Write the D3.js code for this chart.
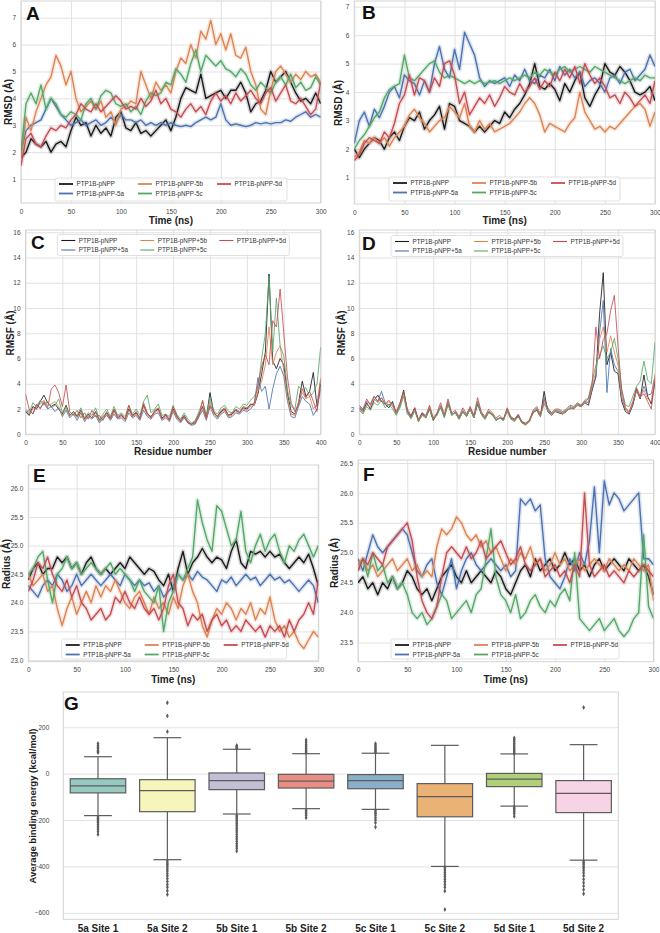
<!DOCTYPE html>
<html>
<head>
<meta charset="utf-8">
<script src="https://cdn.jsdelivr.net/npm/d3@7"></script>
<style>
  body { margin: 0; background: #fff; }
  svg { display: block; font-family: "Liberation Sans", Arial, sans-serif; }
  .axis .domain { display: none; }
  .axis line { stroke: #e2e2e2; stroke-width: 1; }
  .axis text { font-size: 6.5px; fill: #444; }
  .boldaxis text { font-size: 10px; font-weight: bold; fill: #222; }
</style>
</head>
<body>
<svg id="fig" width="660" height="933"></svg>
<script>
'use strict';

// ---- shared categories / ticks ----
const timeNs = [0,5,10,15,20,25,30,35,40,45,50,55,60,65,70,75,80,85,90,95,100,
  105,110,115,120,125,130,135,140,145,150,155,160,165,170,175,180,185,190,195,200,
  205,210,215,220,225,230,235,240,245,250,255,260,265,270,275,280,285,290,295,300];
const residues = [0,5,10,15,20,25,30,35,40,45,50,55,60,65,70,75,80,85,90,95,
  100,105,110,115,120,125,130,135,140,145,150,155,160,165,170,175,180,185,190,195,
  200,205,210,215,220,225,230,235,240,245,250,255,260,265,270,275,280,285,290,295,
  300,305,310,315,320,325,330,335,340,345,350,355,360,365,370,375,380,385,390,395,400];

const labelsDash = ['PTP1B-pNPP', 'PTP1B-pNPP-5a', 'PTP1B-pNPP-5b', 'PTP1B-pNPP-5c', 'PTP1B-pNPP-5d'];
const labelsPlus = ['PTP1B-pNPP', 'PTP1B-pNPP+5a', 'PTP1B-pNPP+5b', 'PTP1B-pNPP+5c', 'PTP1B-pNPP+5d'];
const seriesColors = ['#1a1a1a', '#4c72b0', '#dd8452', '#55a868', '#c44e52'];

const timeTicks = [0, 50, 100, 150, 200, 250, 300];
const residueTicks = [0, 50, 100, 150, 200, 250, 300, 350, 400];
const rmsdTicks = [1, 2, 3, 4, 5, 6, 7];
const rmsfTicks = [0, 2, 4, 6, 8, 10, 12, 14, 16];
const radiusTicksE = [23.0, 23.5, 24.0, 24.5, 25.0, 25.5, 26.0];
const radiusTicksF = [23.5, 24.0, 24.5, 25.0, 25.5, 26.0, 26.5];
const energyTicks = [-600, -400, -200, 0, 200];

// ---- A: RMSD ----
const rmsdA_pNPP = [1.8,2.0,2.5,2.3,2.2,2.4,2.0,2.3,2.4,2.2,2.8,
  3.3,3.0,3.1,2.6,3.0,2.7,2.9,2.6,3.3,3.5, 2.9,2.8,3.1,2.7,2.8,2.6,2.8,3.0,3.2,2.8,
  3.3,4.0,4.4,4.3,4.2,4.9,4.0,4.1,4.2,4.3, 4.0,4.3,4.3,4.6,4.2,3.5,3.8,3.9,4.3,5.0,
  4.6,4.8,5.0,4.6,4.2,3.9,4.0,3.8,4.2,3.8];
const rmsdA_5a = [2.0,2.8,3.0,3.1,3.2,3.6,4.0,3.7,3.4,3.2,3.0,
  3.1,3.2,3.0,3.1,3.2,3.0,3.1,3.3,3.1,3.4, 3.2,3.2,3.1,3.2,3.0,3.1,3.0,3.1,3.0,3.1,
  3.0,2.95,3.0,2.95,3.1,3.2,3.3,3.2,3.3,3.8, 3.2,3.0,3.05,3.0,2.95,3.0,3.1,3.05,3.1,3.05,
  3.1,3.1,3.2,3.15,3.3,3.4,3.5,3.3,3.4,3.3];
const rmsdA_5b = [1.8,3.3,2.8,3.5,4.0,4.5,4.8,5.6,5.2,4.5,5.0,
  4.0,3.5,3.7,3.9,3.6,3.9,3.3,3.5,3.0,3.6, 3.7,3.9,3.8,5.0,4.5,4.0,4.6,4.3,4.5,4.2,
  5.0,5.5,5.3,6.0,5.5,6.5,6.2,6.9,6.0,6.4, 5.8,6.4,5.6,5.5,5.9,5.0,4.5,3.6,3.4,4.3,
  5.0,5.2,4.9,4.6,4.9,4.7,5.0,4.8,4.9,4.6];
const rmsdA_5c = [2.0,3.8,4.2,3.8,4.5,3.6,4.0,3.8,3.4,3.3,3.5,
  3.4,3.2,3.8,4.0,3.6,4.1,4.3,4.2,3.8,3.7, 3.8,3.5,3.7,3.4,3.9,4.2,4.1,4.2,4.6,4.5,
  5.1,4.9,4.6,5.3,5.8,5.0,5.6,5.4,5.2,5.4, 5.1,5.0,4.8,5.1,4.9,4.5,4.3,4.6,4.4,4.2,
  4.6,4.8,4.5,4.9,4.4,4.6,4.3,4.4,4.8,4.5];
const rmsdA_5d = [1.5,2.5,2.7,2.3,2.2,2.6,2.9,2.8,3.0,2.9,3.2,
  3.4,3.8,3.6,3.5,3.8,3.5,3.7,3.9,4.1,3.9, 3.6,3.7,3.6,4.0,3.7,3.9,4.3,3.8,4.0,3.6,
  3.5,3.3,3.6,3.8,3.5,3.7,3.4,3.9,4.2,3.9, 4.1,3.8,4.2,3.9,4.1,4.3,4.0,3.8,4.2,4.4,
  3.9,4.2,4.5,3.9,3.8,4.0,3.7,3.4,3.6,4.6];

// ---- B: RMSD ----
const rmsdB_pNPP = [2.0,1.7,2.0,2.2,2.4,2.3,2.0,2.4,2.6,2.3,2.8,
  3.1,3.0,3.3,2.7,3.0,3.2,3.5,2.7,3.6,3.5, 3.0,2.9,2.8,2.6,2.8,2.6,2.8,3.0,2.9,3.3,
  3.1,3.4,3.6,3.9,4.3,5.0,4.2,4.1,4.3,4.1, 3.7,4.3,4.0,4.4,4.7,3.8,3.5,3.9,4.2,5.0,
  4.7,4.6,4.9,4.7,4.4,4.0,3.9,4.0,4.2,3.7];
const rmsdB_5a = [2.2,3.0,3.3,2.8,3.4,3.1,3.5,4.0,4.2,3.8,4.6,
  4.4,4.3,3.9,4.4,4.0,5.0,5.6,4.8,4.5,5.5, 4.8,6.1,5.7,5.3,4.5,4.2,4.4,4.3,4.4,4.5,
  4.2,4.6,4.4,4.8,4.4,4.3,4.6,4.5,4.8,4.4, 4.9,4.6,4.8,4.5,4.7,4.2,4.4,4.5,4.3,4.0,
  4.5,4.6,4.3,4.7,4.8,4.4,4.6,4.8,5.3,4.9];
const rmsdB_5b = [1.7,1.9,2.3,2.2,2.4,2.2,2.4,2.1,2.4,2.6,2.8,
  3.2,3.4,3.1,2.9,2.6,2.8,3.0,3.1,3.5,3.3, 3.1,3.6,2.8,2.6,3.0,2.7,2.9,2.6,2.7,2.8,
  2.9,3.1,3.3,3.6,3.8,3.6,3.2,2.6,2.9,2.8, 2.7,2.6,2.9,3.1,4.0,3.3,3.0,2.7,2.8,2.6,
  2.8,2.7,2.9,3.1,3.3,3.5,3.6,3.4,2.8,3.3];
const rmsdB_5c = [2.0,2.3,2.5,2.8,3.1,3.3,3.8,4.1,4.2,4.3,5.3,
  4.5,4.4,4.6,4.8,5.0,5.1,4.7,4.5,4.6,4.5, 4.4,4.3,4.4,4.3,4.4,4.3,4.35,4.4,4.3,4.4,
  4.5,4.4,4.5,4.6,4.5,4.7,4.6,4.8,4.7,4.6, 4.8,4.9,4.7,4.8,4.9,4.8,4.7,4.9,4.8,4.7,
  4.6,4.5,4.4,4.3,4.4,4.5,4.4,4.6,4.5,4.5];
const rmsdB_5d = [1.6,1.8,2.2,2.4,2.3,2.2,2.6,2.4,2.9,3.6,3.9,
  4.6,3.9,4.5,4.4,4.0,4.5,4.2,5.0,5.1,4.6, 3.6,4.0,3.2,3.5,3.8,3.6,3.9,3.5,3.8,4.2,
  4.0,3.9,4.3,4.0,4.2,4.5,4.1,4.4,4.2,4.7, 4.4,4.8,4.5,4.9,4.3,5.0,4.6,4.3,4.5,4.2,
  3.8,3.9,3.6,4.0,3.8,3.5,3.7,3.9,3.6,4.4];

// ---- C: RMSF ----
const rmsfC_pNPP = [1.8,1.5,2.2,2.0,2.6,3.1,2.5,2.2,2.4,2.0, 1.6,2.3,1.5,1.8,1.4,1.9,1.2,1.6,1.3,1.8,
  1.1,1.4,1.7,1.2,1.9,1.3,1.5,1.2,2.0,1.5, 1.7,1.3,2.3,1.6,1.4,1.8,2.0,1.3,1.5,1.2,
  2.0,1.4,1.1,1.5,1.0,0.8,1.0,1.6,2.2,1.3, 3.3,1.7,1.4,1.8,2.0,1.5,1.6,1.9,1.7,2.1,
  2.0,2.4,2.3,3.2,4.8,6.5,12.7,5.8,5.2,6.0, 5.5,3.2,1.8,1.6,2.5,4.2,3.0,3.4,4.9,2.2, 4.0];
const rmsfC_5a = [1.7,1.9,1.6,2.3,2.1,2.5,2.0,2.2,1.8,2.1, 1.4,1.9,1.3,1.6,1.1,1.7,1.0,1.4,1.2,1.5,
  0.9,1.2,1.5,1.1,1.6,1.2,1.3,1.0,1.7,1.3, 1.5,1.1,1.9,1.4,1.2,1.6,1.7,1.1,1.3,1.0,
  1.8,1.2,0.9,1.3,0.9,0.7,0.8,1.4,1.9,1.1, 2.2,1.5,1.2,1.6,1.8,1.3,1.4,1.7,1.6,1.9,
  1.8,2.0,2.4,4.5,3.4,3.8,2.0,3.6,4.8,5.4, 4.6,2.6,1.4,1.3,2.2,3.0,2.6,2.4,1.5,2.0, 3.6];
const rmsfC_5b = [1.9,1.6,2.0,2.1,2.4,2.7,2.3,2.4,2.6,2.2, 1.5,2.1,1.4,1.7,1.3,1.8,1.1,1.5,1.3,1.7,
  1.0,1.3,1.6,1.2,1.8,1.3,1.4,1.1,1.9,1.4, 1.6,1.2,2.2,1.5,1.3,1.7,1.9,1.2,1.4,1.1,
  1.9,1.3,1.0,1.4,1.0,0.8,0.9,1.5,2.1,1.2, 2.6,1.6,1.3,1.7,1.9,1.4,1.5,1.8,1.7,2.0,
  1.9,2.2,2.3,3.4,4.2,5.5,8.5,5.5,6.5,7.0, 5.0,2.8,1.6,1.5,2.6,3.3,2.8,3.0,2.0,2.4, 4.5];
const rmsfC_5c = [2.0,1.7,2.5,2.2,2.7,2.3,2.6,2.1,2.3,2.8, 1.7,2.2,1.5,1.8,1.5,2.1,1.3,1.7,1.5,2.1,
  1.2,1.6,2.0,1.4,2.2,1.5,1.7,1.4,2.3,1.6, 2.0,1.5,2.6,3.1,1.7,2.0,2.4,1.5,1.6,1.4,
  2.3,1.6,1.2,1.7,1.2,0.9,1.1,1.8,2.6,1.5, 2.9,1.9,1.6,2.1,2.3,1.8,1.7,2.2,2.0,2.4,
  2.3,2.7,3.0,3.6,6.0,8.0,12.5,6.5,10.8,7.0, 6.2,3.5,2.2,2.0,3.8,3.5,3.7,3.0,3.3,4.0, 6.9];
const rmsfC_5d = [3.2,2.0,1.6,2.4,2.0,2.6,2.1,3.6,3.9,3.3, 2.2,3.9,1.8,1.5,1.9,1.3,1.7,1.2,1.9,1.4,
  1.5,1.1,1.8,1.3,2.0,1.4,1.6,1.2,2.3,1.4, 1.8,1.2,2.5,1.7,1.3,1.9,2.1,1.2,1.6,1.1,
  2.2,1.5,1.0,1.4,0.9,0.8,0.9,1.4,2.7,1.3, 2.3,1.8,1.4,1.9,2.1,1.5,1.7,2.0,1.8,2.2,
  2.1,2.3,2.5,3.9,5.4,6.3,5.5,9.0,8.5,11.5, 8.0,4.5,2.5,1.8,2.3,3.6,2.9,3.4,2.6,1.8, 4.3];

// ---- D: RMSF ----
const rmsfD_pNPP = [2.1,1.8,2.5,2.0,2.7,3.1,2.6,2.4,2.1,2.6, 1.6,2.4,3.5,1.8,1.4,2.1,1.0,1.7,1.3,2.0,
  1.1,1.6,2.2,1.4,2.4,1.6,1.7,1.2,1.8,1.4, 2.0,1.3,2.4,1.6,1.2,1.8,1.6,1.1,1.3,1.2,
  1.9,1.3,1.1,1.5,0.9,0.8,1.0,1.7,1.9,1.4, 3.4,1.8,1.5,1.8,1.7,1.6,1.8,2.1,2.0,2.3,
  2.2,2.5,2.3,3.5,4.6,9.5,12.8,5.5,6.5,5.0, 4.8,2.6,1.8,1.6,2.3,3.5,2.8,4.7,3.0,2.4, 4.2];
const rmsfD_5a = [2.2,1.9,2.6,2.4,3.0,2.6,3.4,2.5,2.3,2.5, 1.7,2.2,3.3,1.9,1.3,2.0,1.1,1.6,1.4,2.1,
  1.2,1.6,2.1,1.4,2.6,1.5,1.8,1.3,1.9,1.5, 2.1,1.4,2.5,1.7,1.3,1.8,1.5,1.2,1.3,1.1,
  2.0,1.3,1.2,1.5,1.0,0.8,1.1,1.8,2.0,1.5, 2.9,2.0,1.6,1.9,1.8,1.7,1.9,2.0,2.1,2.4,
  2.2,2.6,2.5,3.6,4.5,8.0,10.6,3.3,6.8,5.5, 5.0,2.8,2.0,1.7,2.4,3.6,2.9,3.8,3.1,3.2, 4.6];
const rmsfD_5b = [2.0,1.7,2.3,2.2,2.8,2.5,2.9,2.3,2.6,2.2, 1.6,2.3,3.2,1.7,1.2,1.9,1.0,1.5,1.3,2.2,
  1.2,1.5,2.3,1.4,2.5,1.6,1.7,1.2,1.8,1.4, 2.1,1.3,2.6,1.6,1.2,1.8,1.6,1.1,1.3,1.1,
  1.9,1.2,1.1,1.4,0.9,0.7,1.0,1.7,2.0,1.4, 2.5,1.9,1.5,1.8,1.8,1.6,1.8,2.1,2.0,2.3,
  2.2,2.5,2.6,3.8,5.0,7.5,8.5,6.5,7.8,6.5, 5.5,3.0,2.0,1.7,2.5,3.4,2.9,3.5,2.8,2.6, 4.8];
const rmsfD_5c = [1.9,1.6,2.2,1.9,2.5,2.3,2.7,2.1,2.4,2.0, 1.5,2.1,3.0,1.6,1.3,1.8,1.1,1.5,1.4,2.0,
  1.2,1.5,2.2,1.3,2.4,1.5,1.7,1.2,1.8,1.4, 2.0,1.3,2.6,1.6,1.2,1.7,1.5,1.1,1.3,1.1,
  1.8,1.2,1.0,1.4,0.9,0.8,1.0,1.8,2.1,1.5, 2.4,1.9,1.6,1.9,1.9,1.7,1.9,2.2,2.1,2.4,
  2.3,2.7,2.9,4.2,5.5,6.2,7.0,6.0,6.5,7.6, 6.0,3.6,2.3,2.2,3.0,3.8,4.2,5.8,4.3,4.0, 7.3];
const rmsfD_5d = [2.3,2.0,2.8,2.3,3.0,2.6,2.9,2.4,2.7,2.3, 1.8,2.5,3.4,2.0,1.5,2.1,1.2,1.7,1.5,2.3,
  1.3,1.7,2.5,1.6,2.8,1.7,1.9,1.4,2.1,1.6, 2.2,1.5,2.9,1.8,1.4,2.0,1.7,1.3,1.5,1.2,
  2.1,1.4,1.2,1.6,1.0,0.9,1.1,1.9,2.2,1.6, 2.7,2.1,1.7,2.0,2.0,1.8,2.0,2.3,2.2,2.5,
  2.3,2.6,2.8,4.0,8.5,6.0,7.5,8.0,9.8,11.0, 7.0,3.4,2.1,1.8,2.6,3.7,3.0,3.2,2.6,2.0, 4.4];

// ---- E: radius of gyration ----
const radE_pNPP = [24.4,24.6,24.7,24.5,24.6,24.6,24.8,24.7,24.8,24.6,24.7,
  24.5,24.7,24.8,24.6,24.5,24.6,24.5,24.6,24.7,24.6, 24.8,24.7,24.6,24.5,24.6,24.55,24.4,24.3,24.5,24.2,
  24.6,24.9,24.5,24.7,24.8,24.95,24.8,24.7,24.8,24.75, 24.6,24.9,25.1,24.7,24.6,24.9,24.85,24.9,24.8,24.9,
  24.8,24.85,24.7,24.6,24.7,24.8,24.7,24.85,24.6,24.3];
const radE_5a = [24.3,24.2,24.1,24.3,24.4,24.3,24.5,24.4,24.2,24.3,24.5,
  24.3,24.4,24.5,24.4,24.3,24.4,24.5,24.4,24.3,24.5, 24.4,24.3,24.4,24.3,24.35,24.2,24.3,24.1,24.2,24.3,
  24.5,24.4,24.5,24.4,24.55,24.45,24.4,24.3,24.2,24.4, 24.35,24.45,24.3,24.4,24.5,24.4,24.45,24.3,24.4,24.5,
  24.4,24.45,24.35,24.4,24.3,24.2,24.3,24.4,24.3,24.0];
const radE_5b = [24.5,24.3,24.4,24.5,24.2,24.3,23.9,23.6,23.9,24.1,23.8,
  24.0,24.2,24.0,24.3,24.1,24.3,24.2,24.4,24.2,24.0, 23.9,24.1,24.2,24.0,23.8,24.1,23.9,24.0,23.8,24.1,
  23.9,24.3,24.5,24.2,24.0,23.6,23.4,23.7,23.9,23.8, 24.0,23.9,23.7,23.9,23.8,24.0,23.7,23.9,23.8,24.1,
  23.7,23.5,23.6,23.4,23.5,23.3,23.2,23.35,23.5,23.4];
const radE_5c = [24.5,24.6,24.8,24.9,24.4,24.0,24.5,24.6,24.8,24.6,24.7,
  24.5,24.6,24.7,24.6,24.5,24.6,24.7,24.5,24.6,24.5, 24.4,24.2,24.4,24.2,24.1,24.0,24.3,23.5,24.0,24.2,
  24.5,24.4,24.6,24.8,25.8,25.4,25.1,24.9,25.7,25.6, 25.3,25.0,25.1,25.6,24.9,24.7,25.0,25.2,24.9,25.1,
  25.2,24.9,24.7,25.0,24.9,25.1,25.2,25.0,24.8,25.0];
const radE_5d = [24.2,24.4,24.7,24.6,24.8,24.5,24.3,24.2,24.4,24.1,24.3,
  24.0,23.9,23.7,23.8,23.9,23.7,23.8,24.1,24.0,24.2, 24.0,23.9,24.1,23.9,23.8,23.9,23.7,23.9,24.3,24.5,
  24.0,23.9,23.6,23.8,23.7,23.8,23.5,23.7,23.8,23.6, 23.7,23.5,23.6,23.5,23.7,23.6,23.5,23.6,23.4,23.6,
  23.5,23.6,23.4,23.7,23.5,23.7,23.8,24.0,23.8,24.4];

// ---- F: radius of gyration ----
const radF_pNPP = [24.5,24.6,24.4,24.5,24.3,24.5,24.4,24.6,24.4,24.5,24.7,
  24.6,24.4,24.3,24.4,24.2,24.4,24.6,24.7,24.8,24.6, 24.5,24.7,24.5,24.6,24.7,24.6,24.5,24.7,24.6,24.4,
  24.3,24.5,24.7,24.8,24.6,24.9,24.7,24.8,24.9,24.7, 24.8,25.0,24.8,24.9,24.7,24.8,24.6,24.8,24.9,24.7,
  24.8,24.9,24.8,24.7,24.9,24.8,24.7,24.8,24.6,24.3];
const radF_5a = [24.9,24.7,25.0,25.3,25.1,25.0,25.1,25.2,25.3,25.4,25.3,
  25.0,24.7,24.6,24.8,24.9,24.5,24.3,24.6,24.9,24.4, 24.7,24.9,25.0,24.8,24.7,24.8,24.9,24.8,24.7,24.8,
  24.6,24.7,25.9,25.8,25.9,25.7,25.8,24.9,24.6,24.5, 24.4,24.6,24.9,24.7,25.0,24.8,25.2,26.1,25.0,26.2,
  25.8,26.0,25.9,25.7,25.8,25.9,26.0,24.9,24.9,24.8];
const radF_5b = [24.8,24.9,24.7,24.8,24.6,24.7,24.8,24.9,24.7,24.8,24.9,
  24.7,24.8,24.6,24.7,24.6,25.1,25.4,25.3,25.4,25.6, 25.5,25.3,25.2,25.3,25.1,25.2,25.0,25.1,24.9,24.7,
  24.9,24.8,25.0,24.9,25.1,24.8,24.9,24.7,24.8,25.0, 24.8,24.9,24.7,24.8,24.9,24.7,24.8,24.9,24.8,24.7,
  24.9,24.8,24.7,24.8,24.7,24.9,24.8,24.7,24.8,24.2];
const radF_5c = [24.7,24.9,24.6,25.0,24.7,24.8,24.5,24.6,24.4,24.5,24.3,
  24.0,23.9,24.0,23.8,23.9,24.1,24.3,24.2,23.9,24.0, 24.1,24.2,24.0,24.3,24.4,24.9,25.4,24.6,24.3,24.2,
  24.0,24.3,23.9,24.0,24.2,24.3,24.1,24.0,24.2,24.1, 24.3,24.4,24.2,25.0,23.9,23.8,23.7,23.8,23.9,23.7,
  23.8,23.9,23.7,23.6,23.7,23.9,24.0,25.3,24.1,23.9];
const radF_5d = [24.7,24.9,24.8,25.0,24.9,24.8,25.1,25.2,25.3,25.4,25.5,
  25.2,24.6,24.2,24.0,23.9,24.1,24.6,25.0,25.1,25.0, 24.9,25.1,24.9,25.0,25.2,24.9,25.0,25.1,25.2,25.0,
  24.8,24.9,25.1,24.8,24.7,24.8,24.9,24.6,24.7,24.8, 24.6,24.7,24.5,24.8,24.6,26.0,24.8,24.6,24.7,24.8,
  24.6,24.7,24.6,24.5,24.7,24.6,24.7,24.8,24.7,24.6];

// ---- G: binding energy box plot ----
const boxCategories = ['5a Site 1', '5a Site 2', '5b Site 1', '5b Site 2', '5c Site 1', '5c Site 2', '5d Site 1', '5d Site 2'];
const boxWhiskerHigh = [73, 155, 105, 86, 88, 122, 85, 125];
const boxQ3 = [-22, -26, 3, -3, -4, -43, 1, -30];
const boxMedian = [-53, -73, -30, -32, -30, -99, -24, -85];
const boxQ1 = [-83, -164, -69, -62, -65, -186, -56, -168];
const boxWhiskerLow = [-181, -371, -174, -151, -154, -400, -140, -373];
const boxOutliers = [
  [91, 95, 100, 108, 115, 122, 130, -187, -192, -198, -205, -212, -220, -230, -240, -250, -262],
  [181, 249, 306, -377, -385, -392, -400, -410, -420, -430, -440, -452, -465, -478, -490, -505, -521],
  [108, 113, 117, 121, -180, -186, -192, -200, -208, -216, -225, -234, -243, -252, -262, -272, -282, -292, -302, -312, -322, -334],
  [90, 96, 102, 110, 118, 126, 135, 145, -158, -165, -172, -180, -190],
  [90, 96, 102, 108, 115, 122, 129, -158, -165, -172, -180, -190, -200, -212, -230],
  [-406, -415, -425, -435, -445, -455, -466, -478, -490, -506, -586],
  [87, 93, 100, 107, 115, 123, 131, 140, 147, 154, -144, -150, -157, -164, -172, -184],
  [285, -377, -384, -392, -400, -408, -418, -428, -440, -455, -470, -484, -500, -518]
];
const boxPalette = ['#8dd3c7', '#ffffb3', '#bebada', '#fb8072', '#80b1d3', '#fdb462', '#b3de69', '#fccde5'];

const svg = d3.select('#fig');

// legend slots: columns filled top to bottom, ncol = 3
const legendCols = [4, 83, 162];
const legendRows = [6, 15.5];
const legendSlots = [[0, 0], [0, 1], [1, 0], [1, 1], [2, 0]];

function drawLinePanel(p) {
  const x = d3.scaleLinear().domain(p.xDomain).range([p.left, p.right]);
  const y = d3.scaleLinear().domain(p.yDomain).range([p.bottom, p.top]);
  const w = p.right - p.left;
  const h = p.bottom - p.top;
  const g = svg.append('g');

  g.append('g').attr('class', 'axis')
    .attr('transform', `translate(0,${p.bottom})`)
    .call(d3.axisBottom(x).tickValues(p.xTicks).tickSize(-h).tickPadding(6));
  g.append('g').attr('class', 'axis')
    .attr('transform', `translate(${p.left},0)`)
    .call(d3.axisLeft(y).tickValues(p.yTicks).tickSize(-w).tickPadding(5).tickFormat(p.yFormat));

  g.append('rect')
    .attr('x', p.left).attr('y', p.top).attr('width', w).attr('height', h)
    .attr('fill', 'none').attr('stroke', '#d4d4d4').attr('stroke-width', 1);

  const clipId = 'clip' + p.letter;
  svg.append('clipPath').attr('id', clipId).append('rect')
    .attr('x', p.left).attr('y', p.top).attr('width', w).attr('height', h);

  const lines = g.append('g').attr('clip-path', `url(#${clipId})`);
  const line = d3.line().x((d, i) => x(p.xs[i])).y(d => y(d));
  p.series.forEach((s, i) => {
    if (p.band) {
      lines.append('path').attr('d', line(s))
        .attr('fill', 'none').attr('stroke', seriesColors[i])
        .attr('stroke-opacity', 0.18).attr('stroke-width', p.band)
        .attr('stroke-linejoin', 'round');
    }
    lines.append('path').attr('d', line(s))
      .attr('fill', 'none').attr('stroke', seriesColors[i])
      .attr('stroke-opacity', p.lineOpacity).attr('stroke-width', p.lw)
      .attr('stroke-linejoin', 'round');
  });

  // legend
  const L = p.legend;
  const lg = svg.append('g').attr('transform', `translate(${L.x},${L.y})`);
  lg.append('rect').attr('width', L.w).attr('height', L.h).attr('rx', 2)
    .attr('fill', '#fff').attr('fill-opacity', 0.85)
    .attr('stroke', '#d9d9d9').attr('stroke-width', 0.8);
  p.labels.forEach((lab, i) => {
    const lx = legendCols[legendSlots[i][0]];
    const ly = legendRows[legendSlots[i][1]];
    lg.append('line').attr('x1', lx).attr('x2', lx + 14).attr('y1', ly).attr('y2', ly)
      .attr('stroke', seriesColors[i]).attr('stroke-width', p.legendLw);
    lg.append('text').attr('x', lx + 17.5).attr('y', ly).attr('dy', '0.35em')
      .attr('font-size', 6.3).attr('fill', '#333').text(lab);
  });

  // panel letter and axis titles
  svg.append('text').attr('x', p.letterX).attr('y', p.letterY)
    .attr('font-size', 19).attr('font-weight', 'bold').attr('fill', '#111').text(p.letter);
  svg.append('text').attr('x', (p.left + p.right) / 2).attr('y', p.xTitleY)
    .attr('text-anchor', 'middle').attr('font-size', 10).attr('font-weight', 'bold')
    .attr('fill', '#222').text(p.xTitle);
  svg.append('text')
    .attr('transform', `translate(${p.yTitleX},${p.yTitleY}) rotate(-90)`)
    .attr('text-anchor', 'middle').attr('dy', '0.35em')
    .attr('font-size', 10).attr('font-weight', 'bold').attr('fill', '#222').text(p.yTitle);
}

const fmtInt = d3.format('d');
const fmt1 = d3.format('.1f');

drawLinePanel({ letter: 'A', left: 21, right: 320.7, top: 1, bottom: 203,
  xDomain: [0, 300], yDomain: [0.11, 7.62], xTicks: timeTicks, yTicks: rmsdTicks, yFormat: fmtInt,
  xs: timeNs, series: [rmsdA_pNPP, rmsdA_5a, rmsdA_5b, rmsdA_5c, rmsdA_5d],
  lw: 1.4, band: 4.5, lineOpacity: 1, legendLw: 1.8, labels: labelsDash,
  legend: { x: 55, y: 178, w: 232, h: 23 },
  letterX: 26, letterY: 20, xTitle: 'Time (ns)', xTitleY: 224, yTitle: 'RMSD (Å)', yTitleX: 8, yTitleY: 102 });

drawLinePanel({ letter: 'B', left: 354.3, right: 655, top: 1, bottom: 204,
  xDomain: [0, 300], yDomain: [0.07, 7.2], xTicks: timeTicks, yTicks: rmsdTicks, yFormat: fmtInt,
  xs: timeNs, series: [rmsdB_pNPP, rmsdB_5a, rmsdB_5b, rmsdB_5c, rmsdB_5d],
  lw: 1.4, band: 4.5, lineOpacity: 1, legendLw: 1.8, labels: labelsDash,
  legend: { x: 389, y: 177, w: 231, h: 24 },
  letterX: 362, letterY: 19, xTitle: 'Time (ns)', xTitleY: 224, yTitle: 'RMSD (Å)', yTitleX: 338, yTitleY: 103 });

drawLinePanel({ letter: 'C', left: 25.5, right: 320.7, top: 230, bottom: 434.3,
  xDomain: [0, 400], yDomain: [0, 16.18], xTicks: residueTicks, yTicks: rmsfTicks, yFormat: fmtInt,
  xs: residues, series: [rmsfC_pNPP, rmsfC_5a, rmsfC_5b, rmsfC_5c, rmsfC_5d],
  lw: 1, band: 0, lineOpacity: 0.85, legendLw: 1.1, labels: labelsPlus,
  legend: { x: 57.3, y: 234.5, w: 232, h: 21 },
  letterX: 31, letterY: 249, xTitle: 'Residue number', xTitleY: 454.5, yTitle: 'RMSF (Å)', yTitleX: 10, yTitleY: 333 });

drawLinePanel({ letter: 'D', left: 359.3, right: 655, top: 230, bottom: 434.3,
  xDomain: [0, 400], yDomain: [0, 16.18], xTicks: residueTicks, yTicks: rmsfTicks, yFormat: fmtInt,
  xs: residues, series: [rmsfD_pNPP, rmsfD_5a, rmsfD_5b, rmsfD_5c, rmsfD_5d],
  lw: 1, band: 0, lineOpacity: 0.85, legendLw: 1.1, labels: labelsPlus,
  legend: { x: 391, y: 235.5, w: 232, h: 21 },
  letterX: 362, letterY: 250, xTitle: 'Residue number', xTitleY: 454.5, yTitle: 'RMSF (Å)', yTitleX: 341.7, yTitleY: 333 });

drawLinePanel({ letter: 'E', left: 28.3, right: 318.3, top: 465, bottom: 661.7,
  xDomain: [0, 300], yDomain: [22.97, 26.41], xTicks: timeTicks, yTicks: radiusTicksE, yFormat: fmt1,
  xs: timeNs, series: [radE_pNPP, radE_5a, radE_5b, radE_5c, radE_5d],
  lw: 1.4, band: 4.5, lineOpacity: 1, legendLw: 1.8, labels: labelsDash,
  legend: { x: 61.7, y: 639, w: 225, h: 20 },
  letterX: 33, letterY: 482, xTitle: 'Time (ns)', xTitleY: 683, yTitle: 'Radius (Å)', yTitleX: 6, yTitleY: 564 });

drawLinePanel({ letter: 'F', left: 358, right: 653.5, top: 460, bottom: 661.7,
  xDomain: [0, 300], yDomain: [23.18, 26.55], xTicks: timeTicks, yTicks: radiusTicksF, yFormat: fmt1,
  xs: timeNs, series: [radF_pNPP, radF_5a, radF_5b, radF_5c, radF_5d],
  lw: 1.4, band: 4.5, lineOpacity: 1, legendLw: 1.8, labels: labelsDash,
  legend: { x: 391, y: 639, w: 228, h: 20 },
  letterX: 363, letterY: 481, xTitle: 'Time (ns)', xTitleY: 683, yTitle: 'Radius (Å)', yTitleX: 334, yTitleY: 563 });

// ---- panel G ----
function drawBoxPanel() {
  const left = 63.3, right = 618.3, top = 692, bottom = 919.3;
  const x = d3.scaleBand().domain(boxCategories).range([left, right]).paddingInner(0.2).paddingOuter(0.1);
  const y = d3.scaleLinear().domain([-628, 352]).range([bottom, top]);
  const g = svg.append('g');

  g.append('g').attr('class', 'axis')
    .attr('transform', `translate(${left},0)`)
    .call(d3.axisLeft(y).tickValues(energyTicks).tickSize(-(right - left)).tickPadding(14));
  g.append('rect').attr('x', left).attr('y', top).attr('width', right - left).attr('height', bottom - top)
    .attr('fill', 'none').attr('stroke', '#d4d4d4');
  g.append('g').attr('class', 'axis boldaxis')
    .attr('transform', `translate(0,${bottom})`)
    .call(d3.axisBottom(x).tickSize(0).tickPadding(5.5));

  const bw = x.bandwidth();
  const edge = '#5c5c5c';
  boxCategories.forEach((c, i) => {
    const cx = x(c) + bw / 2;
    const col = d3.hsl(boxPalette[i]);
    col.s *= 0.75;
    const b = g.append('g');
    b.append('line').attr('x1', cx).attr('x2', cx).attr('y1', y(boxWhiskerHigh[i])).attr('y2', y(boxQ3[i]))
      .attr('stroke', edge).attr('stroke-width', 1.2);
    b.append('line').attr('x1', cx).attr('x2', cx).attr('y1', y(boxQ1[i])).attr('y2', y(boxWhiskerLow[i]))
      .attr('stroke', edge).attr('stroke-width', 1.2);
    [boxWhiskerHigh[i], boxWhiskerLow[i]].forEach(v => {
      b.append('line').attr('x1', cx - bw / 4).attr('x2', cx + bw / 4).attr('y1', y(v)).attr('y2', y(v))
        .attr('stroke', edge).attr('stroke-width', 1.2);
    });
    b.append('rect').attr('x', x(c)).attr('width', bw)
      .attr('y', y(boxQ3[i])).attr('height', y(boxQ1[i]) - y(boxQ3[i]))
      .attr('fill', col.formatHex()).attr('stroke', edge).attr('stroke-width', 1.2);
    b.append('line').attr('x1', x(c)).attr('x2', x(c) + bw).attr('y1', y(boxMedian[i])).attr('y2', y(boxMedian[i]))
      .attr('stroke', edge).attr('stroke-width', 1.2);
    b.selectAll('path.out').data(boxOutliers[i]).enter().append('path')
      .attr('class', 'out')
      .attr('d', d3.symbol(d3.symbolDiamond, 7))
      .attr('transform', d => `translate(${cx},${y(d)})`)
      .attr('fill', edge);
  });

  svg.append('text').attr('x', 64).attr('y', 710)
    .attr('font-size', 19).attr('font-weight', 'bold').attr('fill', '#111').text('G');
  svg.append('text')
    .attr('transform', `translate(33,806) rotate(-90)`)
    .attr('text-anchor', 'middle').attr('dy', '0.35em')
    .attr('font-size', 9.5).attr('font-weight', 'bold').attr('fill', '#222')
    .text('Average binding energy (kcal/mol)');
}
drawBoxPanel();
</script>
</body>
</html>
